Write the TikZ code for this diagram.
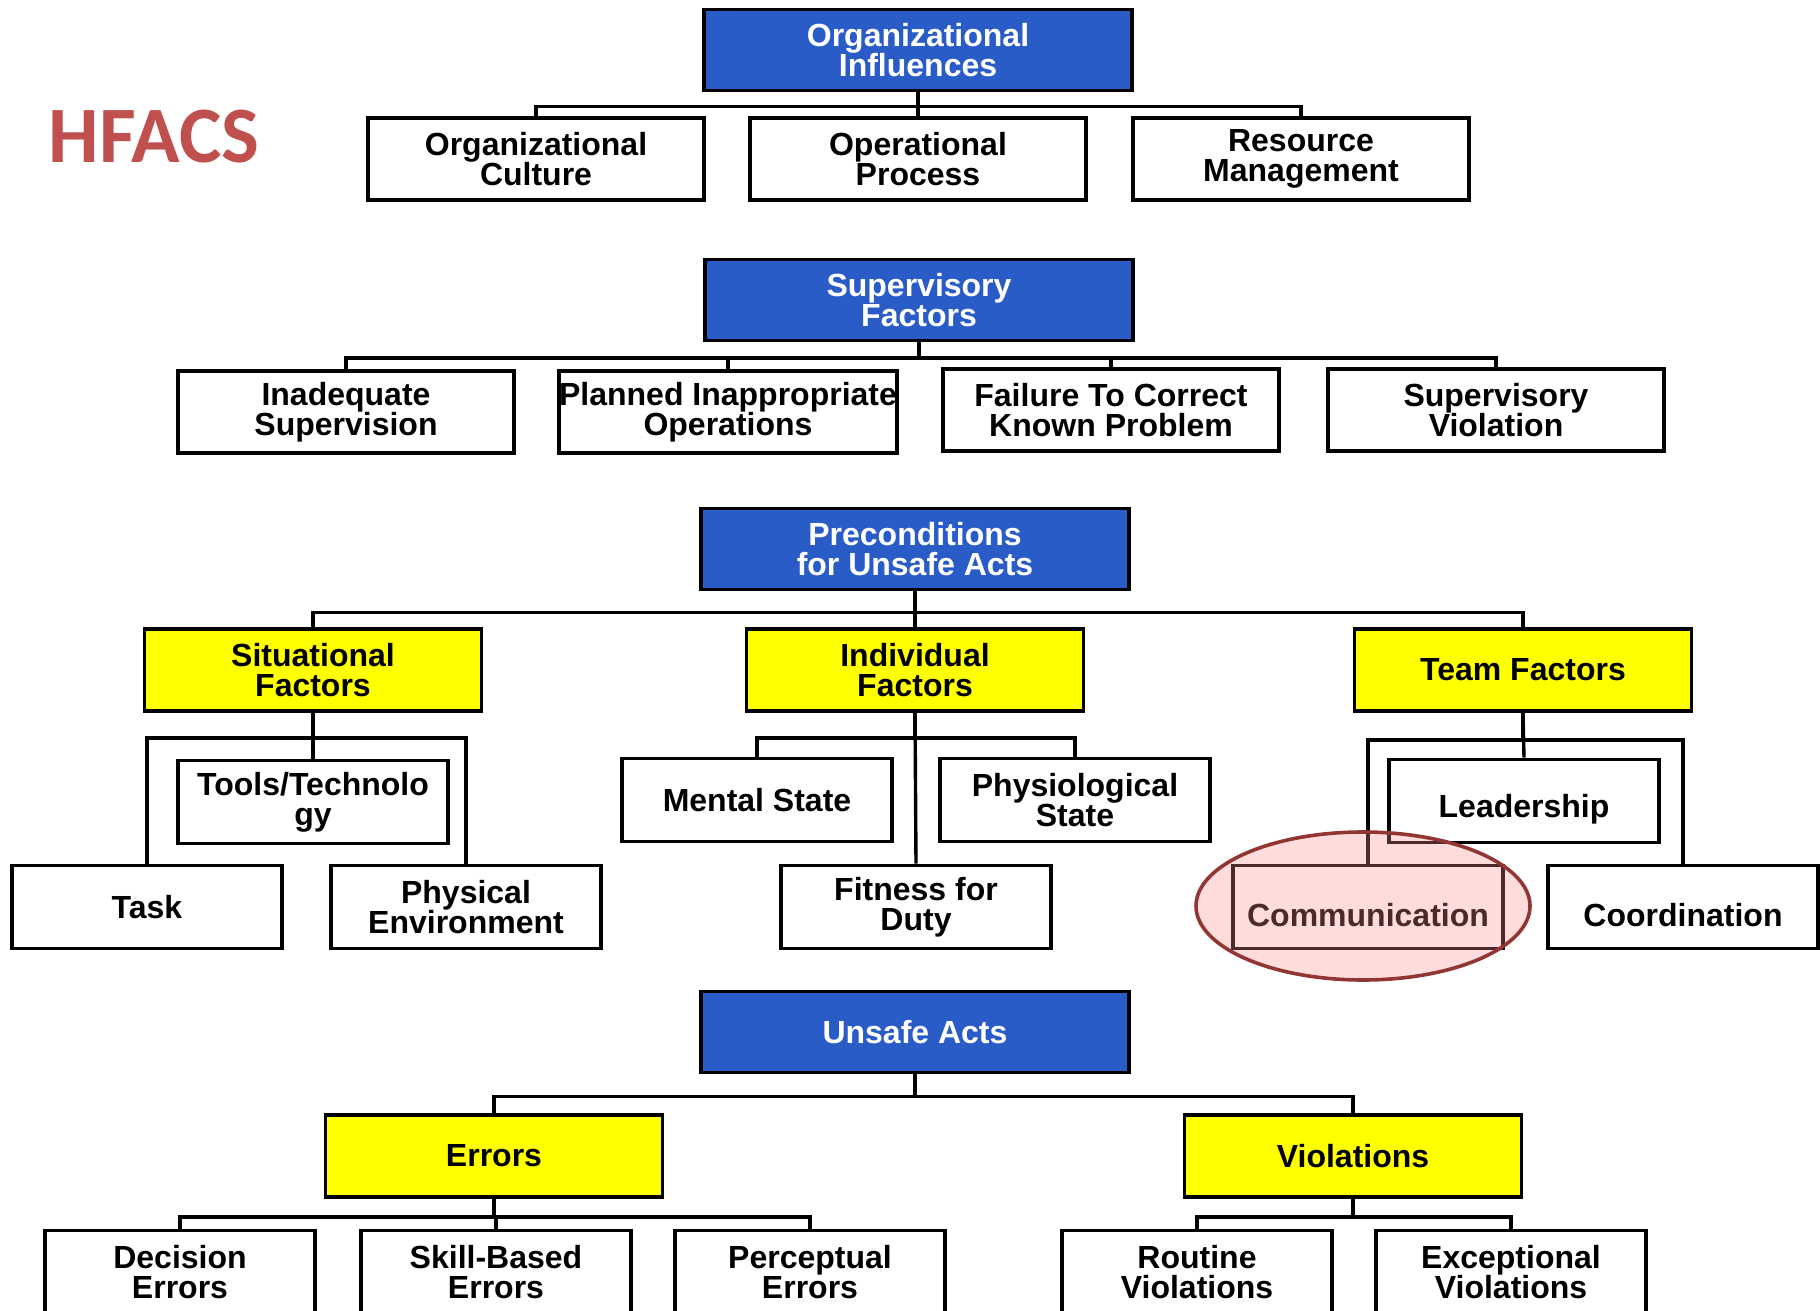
\documentclass[tikz,border=0pt]{standalone}
\usepackage{fontspec}
\setmainfont{Liberation Sans}
\newfontfamily\titlefont{Carlito}
\usetikzlibrary{shapes.geometric}

\definecolor{hblue}{RGB}{42,92,200}
\definecolor{hyellow}{RGB}{255,255,0}
\definecolor{hred}{RGB}{192,80,77}
\definecolor{hring}{RGB}{146,54,52}

\newcommand{\lowtext}[1]{\raisebox{-4pt}[\height][\depth]{#1}}

\begin{document}
\begin{tikzpicture}[x=0.5pt,y=-0.5pt,
  box/.style={draw,line width=1.9pt,align=center,inner sep=0pt,
    font=\bfseries\fontsize{16}{15}\selectfont},
  bluebox/.style={box,fill=hblue,text=white,minimum width=214pt,minimum height=40.5pt},
  yellowbox/.style={box,fill=hyellow,minimum width=168.5pt,minimum height=41pt},
  widebox/.style={box,fill=white,minimum width=168pt,minimum height=41pt},
  smallbox/.style={box,fill=white,minimum width=135pt,minimum height=41.5pt},
  link/.style={line width=1.7pt}]

\useasboundingbox (0,0) rectangle (1820,1311);
\clip (0,0) rectangle (1820,1311);

\node (title) at (154,137) [text=hred,font=\titlefont\bfseries\fontsize{40}{40}\selectfont] {HFACS};

\node (orginf) at (918,50) [bluebox] {Organizational\\Influences};
\node (orgcult) at (536,159) [widebox] {Organizational\\Culture};
\node (opproc) at (918,159) [widebox] {Operational\\Process};
\node (resmgmt) at (1301,159) [widebox] {Resource\\Management};

\node (supfac) at (919,300) [bluebox] {Supervisory\\Factors};
\node (inadsup) at (346,412) [widebox] {Inadequate\\Supervision};
\node (planned) at (728,412) [widebox] {Planned Inappropriate\\Operations};
\node (failure) at (1111,410) [widebox] {Failure To Correct\\Known Problem};
\node (supviol) at (1496,410) [widebox] {Supervisory\\Violation};

\node (precond) at (915,549) [bluebox] {Preconditions\\for Unsafe Acts};
\node (situ) at (313,670) [yellowbox] {Situational\\Factors};
\node (indiv) at (915,670) [yellowbox] {Individual\\Factors};
\node (team) at (1523,670) [yellowbox] {Team Factors};

\node (tools) at (313,802) [smallbox] {Tools/Technolo\\gy};
\node (task) at (147,907) [smallbox] {Task};
\node (physenv) at (466,907) [smallbox] {Physical\\Environment};

\node (mental) at (757,800) [smallbox] {Mental State};
\node (physio) at (1075,800) [smallbox] {Physiological\\State};
\node (fitness) at (916,907) [smallbox] {Fitness for\\Duty};

\node (leader) at (1524,801) [smallbox] {\lowtext{Leadership}};
\node (comm) at (1368,907) [smallbox] {\lowtext{Communication}};
\node (coord) at (1683,907) [smallbox] {\lowtext{Coordination}};

\node (unsafe) at (915,1032) [bluebox] {Unsafe Acts};
\node (errors) at (494,1156) [yellowbox] {Errors};
\node (viol) at (1353,1156) [yellowbox] {Violations};

\node (decision) at (180,1272) [smallbox] {Decision\\Errors};
\node (skill) at (496,1272) [smallbox] {Skill-Based\\Errors};
\node (percep) at (810,1272) [smallbox] {Perceptual\\Errors};
\node (routine) at (1197,1272) [smallbox] {Routine\\Violations};
\node (except) at (1511,1272) [smallbox] {Exceptional\\Violations};

\foreach \c in {orgcult,opproc,resmgmt}
  \draw[link] (orginf.south) -- ++(0,14) -| (\c.north);
\foreach \c in {inadsup,planned,failure,supviol}
  \draw[link] (supfac.south) -- ++(0,15.5) -| (\c.north);
\foreach \c in {situ,indiv,team}
  \draw[link] (precond.south) -- ++(0,21) -| (\c.north);

\draw[link] (situ.south) -- (tools.north);
\foreach \c in {task,physenv}
  \draw[link] (situ.south) -- ++(0,25) -| (\c.north);
\draw[link] (indiv.south) -- (fitness.north);
\foreach \c in {mental,physio}
  \draw[link] (indiv.south) -- ++(0,25) -| (\c.north);
\draw[link] (team.south) -- (leader.north);
\foreach \c in {comm,coord}
  \draw[link] (team.south) -- ++(0,27) -| (\c.north);

\foreach \c in {errors,viol}
  \draw[link] (unsafe.south) -- ++(0,22) -| (\c.north);
\foreach \c in {decision,skill,percep}
  \draw[link] (errors.south) -- ++(0,18) -| (\c.north);
\foreach \c in {routine,except}
  \draw[link] (viol.south) -- ++(0,18) -| (\c.north);

\node (ring) at (1363,906) [ellipse,draw=hring,line width=1.8pt,fill=red!45,fill opacity=0.3,
  minimum width=167pt,minimum height=74pt] {};

\end{tikzpicture}
\end{document}
